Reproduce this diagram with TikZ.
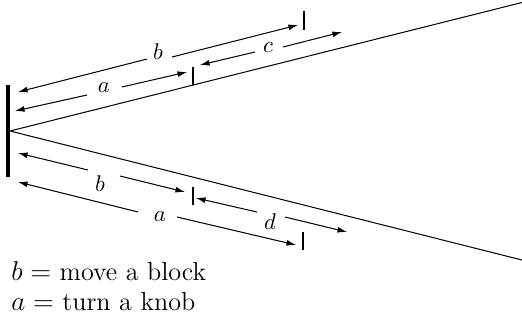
\documentclass[tikz,border=0pt]{standalone}
\usetikzlibrary{arrows.meta}
\begin{document}
\begin{tikzpicture}[x=0.44pt,y=-0.44pt,
  thinline/.style={line width=0.45pt},
  dimarrow/.style={line width=0.45pt,-{Latex[length=4.2pt,width=2.6pt]}},
  tickmark/.style={line width=0.95pt},
  barmark/.style={line width=1.4pt},
  lbl/.style={inner sep=0pt},
  legend/.style={anchor=base west,inner sep=0pt,font=\fontsize{11.5}{14}\selectfont}]
\useasboundingbox (0,0) rectangle (522,324);
% main wedge
\coordinate (apex) at (10,131);
\coordinate (upend) at (522,2.5);
\coordinate (loend) at (522,260);
\draw[thinline] (upend) -- (apex) -- (loend);
% vertical bar
\coordinate (bartop) at (8,85);
\coordinate (barbot) at (8,177);
\draw[barmark] (bartop) -- (barbot);
% tick marks
\coordinate (ut1a) at (193,67);  \coordinate (ut1b) at (193,85);
\coordinate (ut2a) at (304,11);  \coordinate (ut2b) at (304,30);
\coordinate (lt1a) at (193,187); \coordinate (lt1b) at (193,205);
\coordinate (lt2a) at (303,232); \coordinate (lt2b) at (303,250);
\draw[tickmark] (ut1a) -- (ut1b);
\draw[tickmark] (ut2a) -- (ut2b);
\draw[tickmark] (lt1a) -- (lt1b);
\draw[tickmark] (lt2a) -- (lt2b);
% upper b
\node[lbl] (ub) at (158,52) {$b$};
\coordinate (ub-l) at (18,92);   \coordinate (ub-gl) at (147,59);
\coordinate (ub-gr) at (172,57); \coordinate (ub-r) at (298,25);
\draw[dimarrow] (ub-gl) -- (ub-l);
\draw[dimarrow] (ub-gr) -- (ub-r);
% upper a
\node[lbl] (ua) at (104,88) {$a$};
\coordinate (ua-l) at (15,111);  \coordinate (ua-gl) at (87,95);
\coordinate (ua-gr) at (122,87); \coordinate (ua-r) at (187,72);
\draw[dimarrow] (ua-gl) -- (ua-l);
\draw[dimarrow] (ua-gr) -- (ua-r);
% c
\node[lbl] (uc) at (268,48) {$c$};
\coordinate (uc-l) at (200,65);  \coordinate (uc-gl) at (255,52);
\coordinate (uc-gr) at (283,47); \coordinate (uc-r) at (342,32);
\draw[dimarrow] (uc-gl) -- (uc-l);
\draw[dimarrow] (uc-gr) -- (uc-r);
% lower b
\node[lbl] (lb) at (100,184) {$b$};
\coordinate (lb-l) at (18,153);  \coordinate (lb-gl) at (88,170);
\coordinate (lb-gr) at (120,176); \coordinate (lb-r) at (185,192);
\draw[dimarrow] (lb-gl) -- (lb-l);
\draw[dimarrow] (lb-gr) -- (lb-r);
% lower a
\node[lbl] (la) at (160,217) {$a$};
\coordinate (la-l) at (18,182);  \coordinate (la-gl) at (138,212);
\coordinate (la-gr) at (177,217); \coordinate (la-r) at (296,245);
\draw[dimarrow] (la-gl) -- (la-l);
\draw[dimarrow] (la-gr) -- (la-r);
% d
\node[lbl] (ld) at (270,222) {$d$};
\coordinate (ld-l) at (196,198); \coordinate (ld-gl) at (257,212);
\coordinate (ld-gr) at (285,217); \coordinate (ld-r) at (347,232);
\draw[dimarrow] (ld-gl) -- (ld-l);
\draw[dimarrow] (ld-gr) -- (ld-r);
% legend
\node[legend] (leg1) at (11,280) {$b =$ move a block};
\node[legend] (leg2) at (11,310) {$a =$ turn a knob};
\end{tikzpicture}
\end{document}
